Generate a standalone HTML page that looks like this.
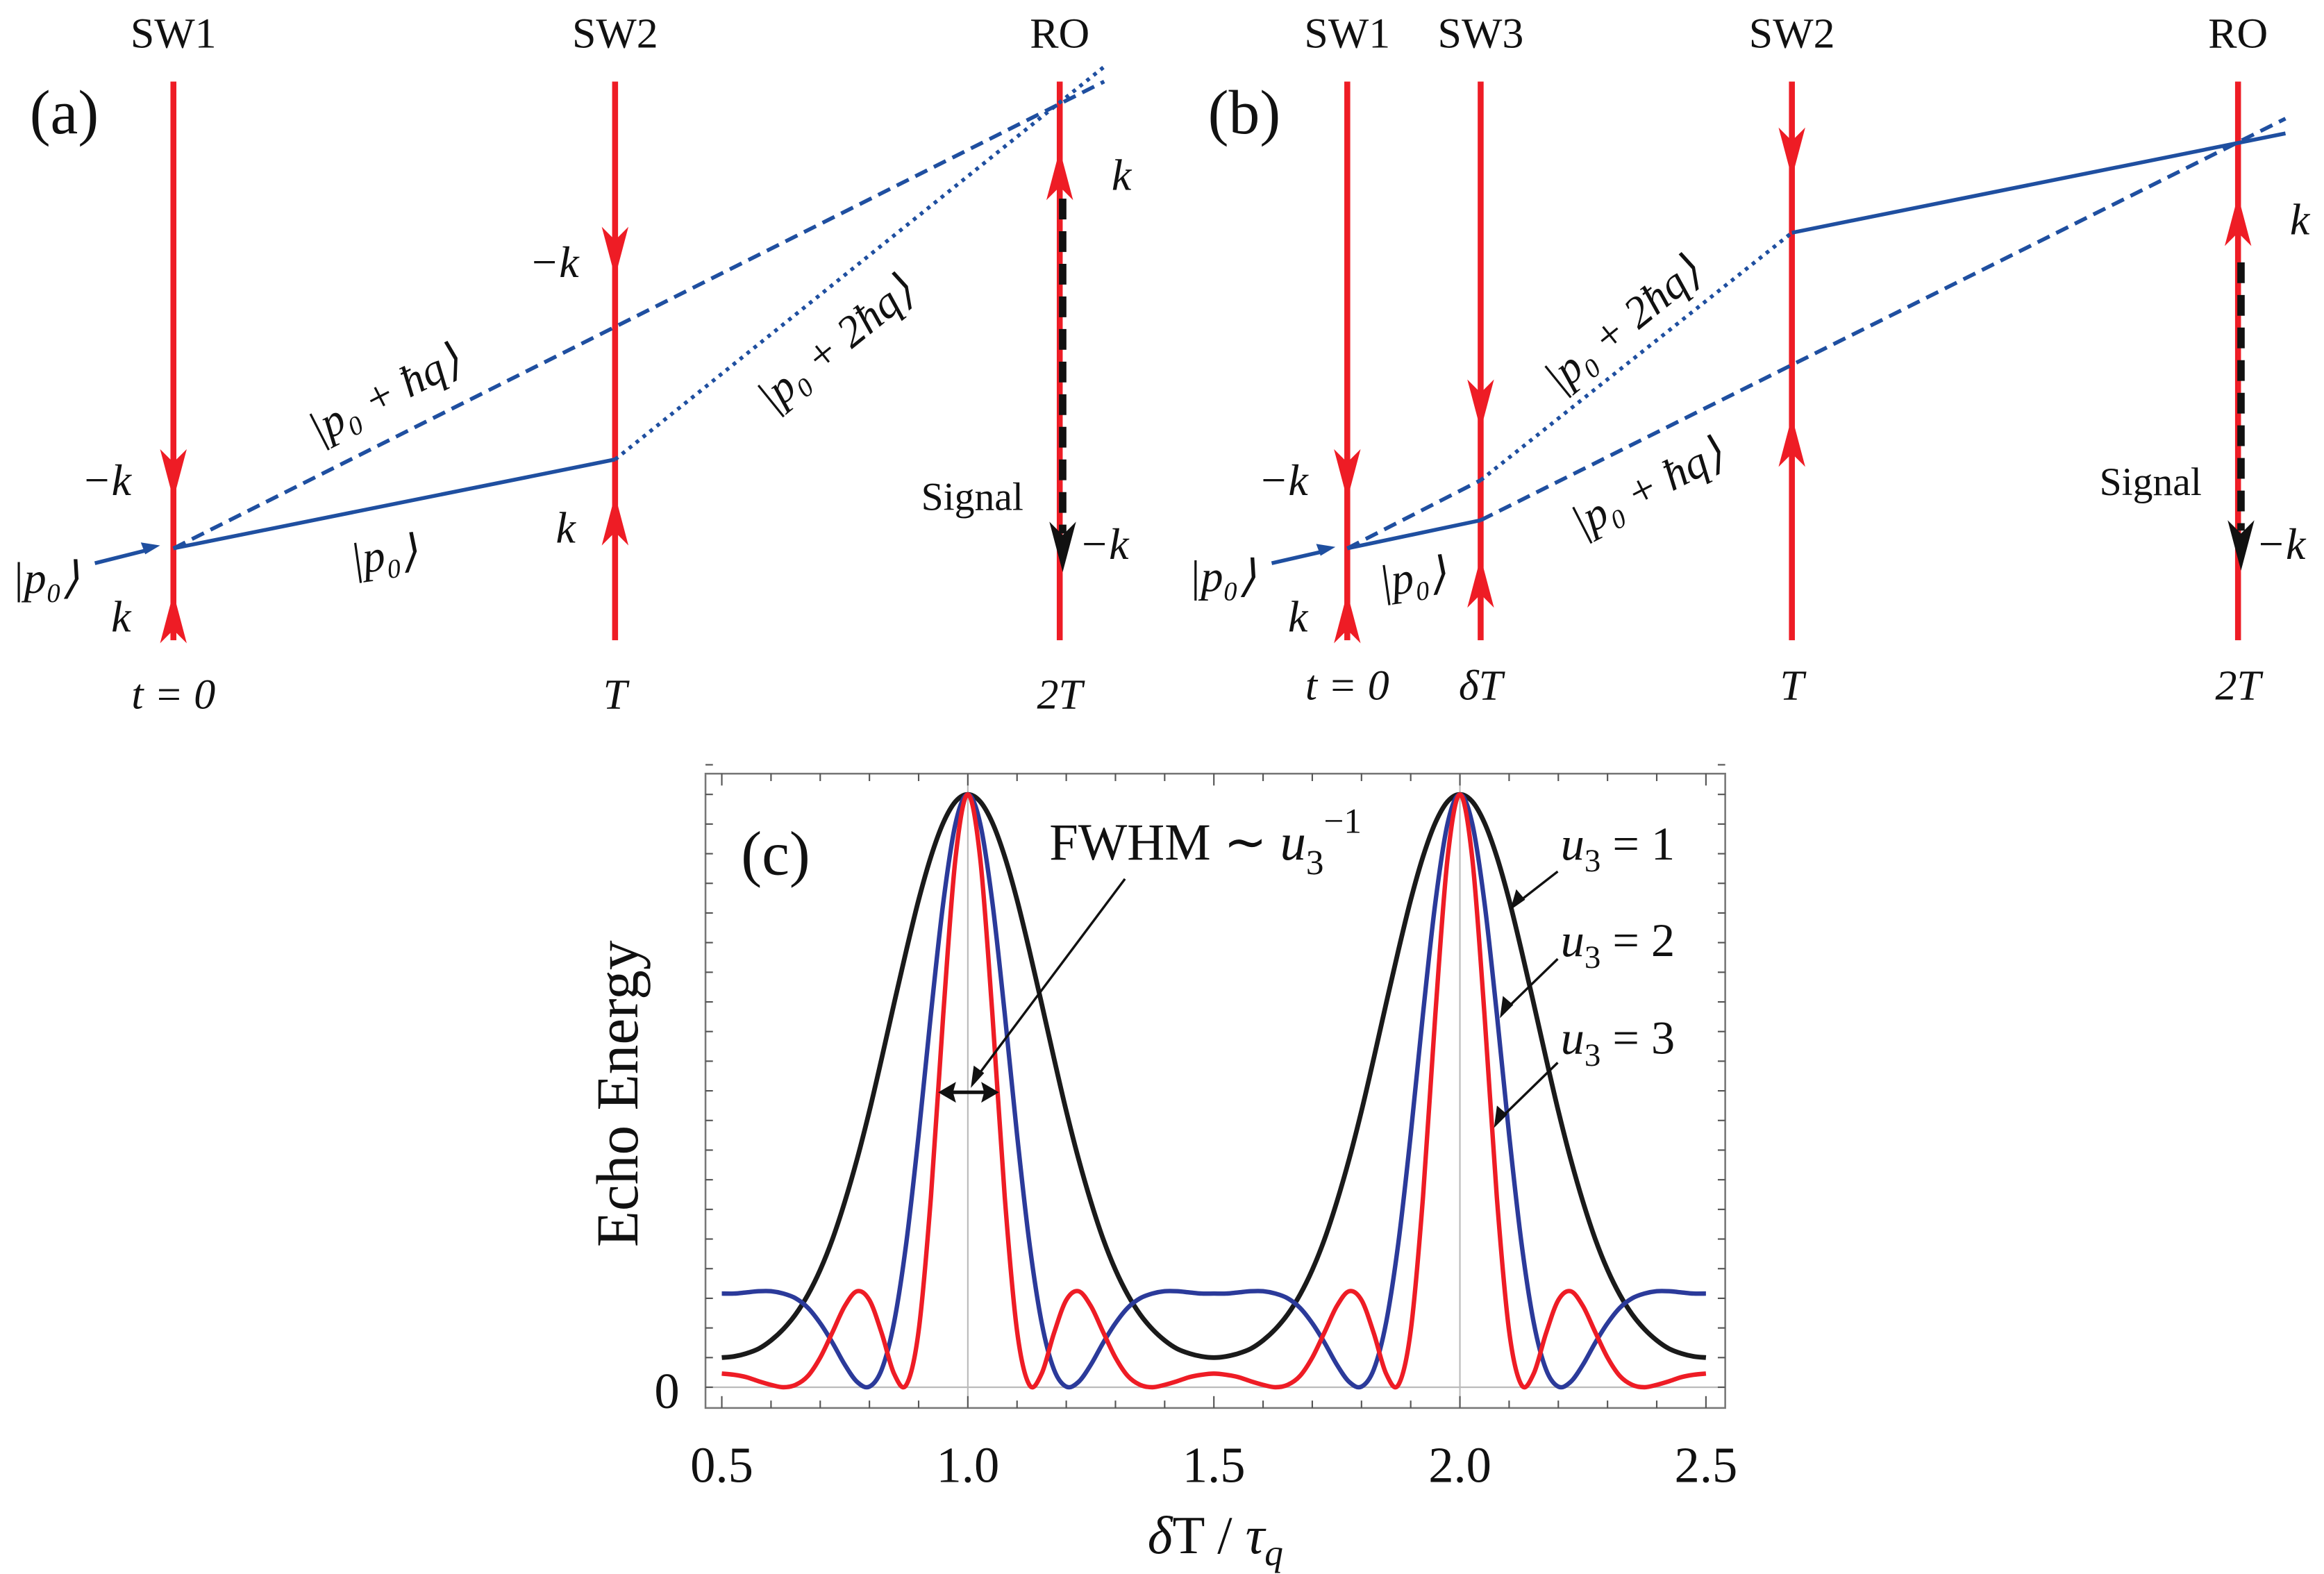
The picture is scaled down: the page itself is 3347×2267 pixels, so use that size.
<!DOCTYPE html>
<html><head><meta charset="utf-8"><style>
html,body{margin:0;padding:0;background:#fff;}
svg{display:block;}
svg text{font-family:"Liberation Serif",serif;fill:#111;}
.it{font-style:italic;}
</style></head><body>
<svg id="fig" width="3347" height="2267" viewBox="0 0 1568 1062" xmlns="http://www.w3.org/2000/svg" font-family="Liberation Serif, serif">
<defs>
<g id="dn"><path d="M0,0 L-9,-34 L0,-25 L9,-34 Z" fill="#ee1c25"/></g>
<g id="up"><path d="M0,0 L-9,34 L0,25 L9,34 Z" fill="#ee1c25"/></g>
<g id="bdn"><path d="M0,0 L-9,-34 L0,-25 L9,-34 Z" fill="#111"/></g>
</defs>

<g font-family="Liberation Serif, serif">
<text x="20" y="90" font-size="42">(a)</text>
<g font-size="29" text-anchor="middle">
<text x="117" y="32">SW1</text>
<text x="415" y="32">SW2</text>
<text x="715" y="32">RO</text>
<text class="it" x="117" y="478">t = 0</text>
<text class="it" x="415" y="478">T</text>
<text class="it" x="715" y="478">2T</text>
</g>
<g stroke="#ee1c25" stroke-width="4">
<line x1="117" y1="55" x2="117" y2="432"/>
<line x1="415" y1="55" x2="415" y2="432"/>
<line x1="715" y1="55" x2="715" y2="432"/>
</g>
<use href="#dn" x="117" y="337"/><use href="#up" x="117" y="400"/>
<use href="#dn" x="415" y="187"/><use href="#up" x="415" y="334"/>
<use href="#up" x="715" y="101"/>
<line x1="717" y1="134" x2="717" y2="360" stroke="#111" stroke-width="5" stroke-dasharray="14,8"/>
<use href="#bdn" x="717" y="386"/>
<g fill="none" stroke="#1f4fa0" stroke-width="2.6">
<line x1="64" y1="380" x2="100" y2="371"/>
<line x1="117" y1="370" x2="415" y2="310"/>
<line x1="117" y1="370" x2="745" y2="55" stroke-dasharray="9,5"/>
<line x1="415" y1="310" x2="745" y2="45" stroke-dasharray="2.5,3.5"/>
</g>
<path d="M108,368 L95,366 L98,374 Z" fill="#1f4fa0"/>
<g font-size="30">
<text class="it" x="55" y="334">−k</text>
<text class="it" x="75" y="426">k</text>
<text class="it" x="357" y="187">−k</text>
<text class="it" x="375" y="366">k</text>
<text class="it" x="750" y="128">k</text>
<text class="it" x="728" y="377">−k</text>
<text class="it" x="8" y="400">|p₀⟩</text>
<text class="it" x="236" y="384" transform="rotate(-8 262 372)">|p₀⟩</text>
<text class="it" x="259" y="276" text-anchor="middle" transform="rotate(-27 259 265)">|p₀ + ħq⟩</text>
<text class="it" x="563" y="242" text-anchor="middle" transform="rotate(-39 563 231)">|p₀ + 2ħq⟩</text>
</g>
<text x="656" y="344" font-size="27" text-anchor="middle">Signal</text>
</g>

<g font-family="Liberation Serif, serif">
<text x="815" y="90" font-size="42">(b)</text>
<g font-size="29" text-anchor="middle">
<text x="909" y="32">SW1</text>
<text x="999" y="32">SW3</text>
<text x="1209" y="32">SW2</text>
<text x="1510" y="32">RO</text>
<text class="it" x="909" y="472">t = 0</text>
<text class="it" x="999" y="472">δT</text>
<text class="it" x="1209" y="472">T</text>
<text class="it" x="1510" y="472">2T</text>
</g>
<g stroke="#ee1c25" stroke-width="4">
<line x1="909" y1="55" x2="909" y2="432"/>
<line x1="999" y1="55" x2="999" y2="432"/>
<line x1="1209" y1="55" x2="1209" y2="432"/>
<line x1="1510" y1="55" x2="1510" y2="432"/>
</g>
<use href="#dn" x="909" y="337"/><use href="#up" x="909" y="400"/>
<use href="#dn" x="999" y="290"/><use href="#up" x="999" y="376"/>
<use href="#dn" x="1209" y="120"/><use href="#up" x="1209" y="281"/>
<use href="#up" x="1510" y="132"/>
<line x1="1512" y1="177" x2="1512" y2="358" stroke="#111" stroke-width="5" stroke-dasharray="14,8"/>
<use href="#bdn" x="1512" y="385"/>
<g fill="none" stroke="#1f4fa0" stroke-width="2.6">
<line x1="858" y1="380" x2="893" y2="372"/>
<line x1="909" y1="370" x2="999" y2="351"/>
<line x1="909" y1="370" x2="999" y2="324" stroke-dasharray="9,5"/>
<line x1="999" y1="324" x2="1209" y2="157" stroke-dasharray="2.5,3.5"/>
<line x1="1209" y1="157" x2="1542" y2="90"/>
<line x1="999" y1="351" x2="1542" y2="80" stroke-dasharray="9,5"/>
</g>
<path d="M901,369 L888,367 L891,375 Z" fill="#1f4fa0"/>
<g font-size="30">
<text class="it" x="849" y="334">−k</text>
<text class="it" x="869" y="426">k</text>
<text class="it" x="1545" y="158">k</text>
<text class="it" x="1522" y="377">−k</text>
<text class="it" x="802" y="399">|p₀⟩</text>
<text class="it" x="930" y="399" transform="rotate(-8 956 387)">|p₀⟩</text>
<text class="it" x="1094" y="229" text-anchor="middle" transform="rotate(-39 1094 218)">|p₀ + 2ħq⟩</text>
<text class="it" x="1111" y="339" text-anchor="middle" transform="rotate(-27 1111 328)">|p₀ + ħq⟩</text>
</g>
<text x="1451" y="334" font-size="27" text-anchor="middle">Signal</text>
</g>

<g id="chart"></g>
</svg>
<script>
// x positions of samples: 0.5 .. 2.5 step 0.025 (81 points)
const xStart = 0.5, xStep = 0.025;
const seriesU1 = [0.050,0.052,0.057,0.065,0.079,0.098,0.123,0.156,0.198,0.250,0.313,0.385,0.466,0.555,0.647,0.737,0.822,0.895,0.952,0.988,1,
0.988,0.952,0.895,0.822,0.737,0.647,0.555,0.466,0.385,0.313,0.250,0.198,0.156,0.123,0.098,0.079,0.065,0.057,0.052,0.050,
0.052,0.057,0.065,0.079,0.098,0.123,0.156,0.198,0.250,0.313,0.385,0.466,0.555,0.647,0.737,0.822,0.895,0.952,0.988,1,
0.988,0.952,0.895,0.822,0.737,0.647,0.555,0.466,0.385,0.313,0.250,0.198,0.156,0.123,0.098,0.079,0.065,0.057,0.052,0.050];
const seriesU2 = [0.158,0.158,0.160,0.162,0.162,0.158,0.150,0.134,0.108,0.075,0.038,0.009,0.001,0.030,0.109,0.244,0.426,0.630,0.817,0.951,1,
0.951,0.817,0.630,0.426,0.244,0.109,0.030,0.001,0.009,0.038,0.075,0.108,0.134,0.150,0.158,0.162,0.162,0.160,0.158,0.158,
0.158,0.160,0.162,0.162,0.158,0.150,0.134,0.108,0.075,0.038,0.009,0.001,0.030,0.109,0.244,0.426,0.630,0.817,0.951,1,
0.951,0.817,0.630,0.426,0.244,0.109,0.030,0.001,0.009,0.038,0.075,0.108,0.134,0.150,0.158,0.162,0.162,0.160,0.158,0.158];
const seriesU3 = [0.023,0.021,0.017,0.010,0.004,0.000,0.004,0.019,0.050,0.093,0.137,0.162,0.147,0.091,0.023,0.004,0.095,0.321,0.628,0.893,1,
0.893,0.628,0.321,0.095,0.004,0.023,0.091,0.147,0.162,0.137,0.093,0.050,0.019,0.004,0.000,0.004,0.010,0.017,0.021,0.023,
0.021,0.017,0.010,0.004,0.000,0.004,0.019,0.050,0.093,0.137,0.162,0.147,0.091,0.023,0.004,0.095,0.321,0.628,0.893,1,
0.893,0.628,0.321,0.095,0.004,0.023,0.091,0.147,0.162,0.137,0.093,0.050,0.019,0.004,0.000,0.004,0.010,0.017,0.021,0.023];
const xTickLabels = ["0.5","1.0","1.5","2.0","2.5"];
const xTickValues = [0.5,1.0,1.5,2.0,2.5];

const NS = "http://www.w3.org/2000/svg";
const chart = document.getElementById("chart");
const X = v => 653 + (v - 1) * 332;
const Y = v => 936 - 400 * v;
const L = 476, R = 1164, T = 522, B = 950;
function mk(tag, attrs, parent) {
  const e = document.createElementNS(NS, tag);
  for (const k in attrs) e.setAttribute(k, attrs[k]);
  (parent || chart).appendChild(e);
  return e;
}
let frame = mk("rect", {x:L, y:T, width:R-L, height:B-T, fill:"none", stroke:"#777", "stroke-width":1.2});


[1,2].forEach(g => {
  const gl = mk("line", {x1:X(g), x2:X(g), y1:T, y2:B, stroke:"#bbb", "stroke-width":1});
  
  
});
const zl = mk("line", {x1:L, x2:R, y1:Y(0), y2:Y(0), stroke:"#bbb", "stroke-width":1});


for (let i = 0; i <= 20; i++) {
  const v = 0.5 + i * 0.1, major = (i % 5 === 0), len = major ? 8 : 5;
  const t1 = mk("line", {x1:X(v), x2:X(v), y1:B, y2:B-len, stroke:"#555", "stroke-width":1});
  
  
  const t2 = mk("line", {x1:X(v), x2:X(v), y1:T, y2:T+len, stroke:"#555", "stroke-width":1});
  
  
}
for (let i = 0; i <= 21; i++) {
  const v = i * 0.05;
  const t1 = mk("line", {x1:L, x2:L+5, y1:Y(v), y2:Y(v), stroke:"#555", "stroke-width":1});
  
  
  const t2 = mk("line", {x1:R, x2:R-5, y1:Y(v), y2:Y(v), stroke:"#555", "stroke-width":1});
  
  
}
xTickLabels.forEach((lab, i) => {
  const t = mk("text", {x:X(xTickValues[i]), y:1000, "font-size":34, "text-anchor":"middle"});
  t.textContent = lab;
  
  
});
const z = mk("text", {x:450, y:950, "font-size":34, "text-anchor":"middle"});
z.textContent = "0";


function pathFor(vals) {
  const pts = vals.map((v, i) => [X(xStart + i * xStep), Y(v)]);
  let d = "M" + pts[0][0].toFixed(2) + "," + pts[0][1].toFixed(2);
  for (let i = 0; i < pts.length - 1; i++) {
    const p0 = pts[Math.max(i-1,0)], p1 = pts[i], p2 = pts[i+1], p3 = pts[Math.min(i+2, pts.length-1)];
    const c1 = [p1[0] + (p2[0]-p0[0])/6, p1[1] + (p2[1]-p0[1])/6];
    const c2 = [p2[0] - (p3[0]-p1[0])/6, p2[1] - (p3[1]-p1[1])/6];
    d += "C" + c1[0].toFixed(2)+","+c1[1].toFixed(2)+" "+c2[0].toFixed(2)+","+c2[1].toFixed(2)+" "+p2[0].toFixed(2)+","+p2[1].toFixed(2);
  }
  return d;
}
const c1 = mk("path", {d:pathFor(seriesU1), fill:"none", stroke:"#1a1a1a", "stroke-width":3.2});


const c2 = mk("path", {d:pathFor(seriesU2), fill:"none", stroke:"#2b3a9a", "stroke-width":3});


const c3 = mk("path", {d:pathFor(seriesU3), fill:"none", stroke:"#ee1c25", "stroke-width":3});


</script>
<script>
(function(){
  const NS = "http://www.w3.org/2000/svg";
  const chart = document.getElementById("chart");
  const html = `
  <text x="500" y="590" font-size="42">(c)</text>
  <text x="708" y="580" font-size="35">FWHM ∼ <tspan font-style="italic">u</tspan><tspan font-size="24" dy="10">3</tspan><tspan font-size="24" dy="-28">−1</tspan></text>
  <line x1="759" y1="593" x2="658" y2="728" stroke="#111" stroke-width="1.6"/>
  <path d="M655,734 L657,719 L664,724 Z" fill="#111"/>
  <line x1="638" y1="737" x2="669" y2="737" stroke="#111" stroke-width="2.4"/>
  <path d="M633,737 L645,730 L643,737 L645,744 Z" fill="#111"/>
  <path d="M674,737 L662,730 L664,737 L662,744 Z" fill="#111"/>
  <text x="1053" y="580" font-size="32"><tspan font-style="italic">u</tspan><tspan font-size="22" dy="8">3</tspan><tspan dy="-8"> = 1</tspan></text>
  <text x="1053" y="645" font-size="32"><tspan font-style="italic">u</tspan><tspan font-size="22" dy="8">3</tspan><tspan dy="-8"> = 2</tspan></text>
  <text x="1053" y="711" font-size="32"><tspan font-style="italic">u</tspan><tspan font-size="22" dy="8">3</tspan><tspan dy="-8"> = 3</tspan></text>
  <line x1="1051" y1="588" x2="1024" y2="609" stroke="#111" stroke-width="1.6"/>
  <path d="M1019,614 L1023,600 L1029,607 Z" fill="#111"/>
  <line x1="1051" y1="647" x2="1016" y2="681" stroke="#111" stroke-width="1.6"/>
  <path d="M1012,687 L1014,672 L1021,678 Z" fill="#111"/>
  <line x1="1051" y1="717" x2="1012" y2="755" stroke="#111" stroke-width="1.6"/>
  <path d="M1008,761 L1010,746 L1017,752 Z" fill="#111"/>
  <text x="418" y="750" font-size="40" text-anchor="middle" transform="rotate(-90 418 738)">Echo Energy</text>
  <text x="820" y="1048" font-size="36" text-anchor="middle"><tspan font-style="italic">δ</tspan>T / <tspan font-style="italic">τ</tspan><tspan font-style="italic" font-size="25" dy="8">q</tspan></text>`;
  const g = document.createElementNS(NS, "g");
  
  
  g.innerHTML = html;
  chart.appendChild(g);
})();
</script>
</body></html>
